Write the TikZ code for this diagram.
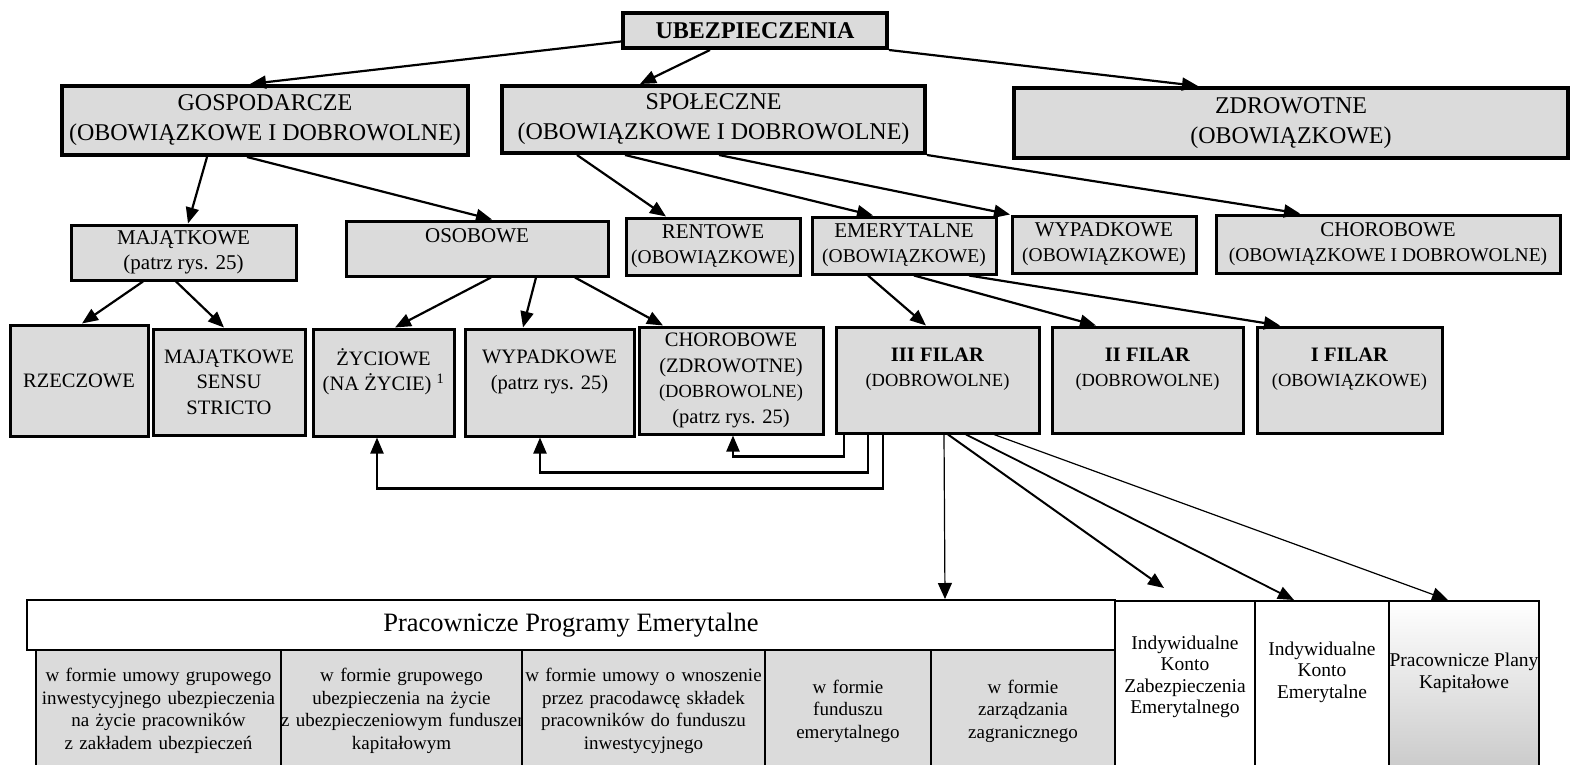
\documentclass[tikz,border=0pt]{standalone}
\usepackage{fontspec}
\setmainfont{Liberation Serif}
\usetikzlibrary{arrows.meta}
\tikzstyle{mainbox}=[draw, fill=black!14, line width=4pt, inner sep=0pt, align=center, font=\fontsize{24}{30}\selectfont]
\tikzstyle{midbox}=[draw, fill=black!14, line width=3pt, inner sep=0pt, align=center, font=\fontsize{21}{25}\selectfont]
\tikzstyle{leafbox}=[draw, fill=black!14, line width=3pt, inner sep=0pt, align=center, minimum height=107pt, font=\fontsize{20.5}{25.5}\selectfont]
\tikzstyle{cell}=[draw, fill=black!14, line width=2pt, inner sep=0pt, align=center, anchor=north west, minimum height=122pt, font=\fontsize{19}{22.5}\selectfont]
\tikzstyle{planbox}=[draw, fill=white, line width=2pt, inner sep=0pt, anchor=north west, minimum height=180pt]
\tikzstyle{plantext}=[inner sep=0pt, align=center, font=\fontsize{19.5}{21.5}\selectfont]
\tikzstyle{link}=[line width=2.2pt, -{Triangle[length=16pt, width=13pt]}]
\tikzstyle{thinlink}=[line width=1.2pt, -{Triangle[length=16pt, width=14pt]}]
\newcommand{\subline}{\fontsize{19.5}{25}\selectfont}
\newcommand{\leafline}{\fontsize{18.5}{25.5}\selectfont}
\begin{document}
\begin{tikzpicture}[x=1pt, y=-1pt]
\useasboundingbox (0,0) rectangle (1572,765);
\clip (0,0) rectangle (1572,765);
% top
\node[mainbox, font=\fontsize{24}{30}\selectfont\bfseries, minimum width=264pt, minimum height=35pt] (ubez) at (755,30.5) {UBEZPIECZENIA};
\node[mainbox, minimum width=406pt, minimum height=69pt] (gosp) at (265,120.5) {GOSPODARCZE\\(OBOWIĄZKOWE I DOBROWOLNE)};
\node[mainbox, minimum width=423pt, minimum height=67pt] (spol) at (713.5,119.5) {SPOŁECZNE\\(OBOWIĄZKOWE I DOBROWOLNE)};
\node[mainbox, minimum width=554pt, minimum height=70pt] (zdrow) at (1291,123) {ZDROWOTNE\\(OBOWIĄZKOWE)};
% second row
\node[midbox, minimum width=225pt, minimum height=55pt] (maj) at (183.5,252.5) {MAJĄTKOWE\\(patrz rys. 25)};
\node[midbox, minimum width=262pt, minimum height=55pt] (osob) at (477,248.5) {OSOBOWE\\~};
\node[midbox, minimum width=174pt, minimum height=57pt] (rent) at (713,246.5) {RENTOWE\\{\subline(OBOWIĄZKOWE)}};
\node[midbox, minimum width=184pt, minimum height=57pt] (emer) at (904,245.5) {EMERYTALNE\\{\subline(OBOWIĄZKOWE)}};
\node[midbox, minimum width=184pt, minimum height=57pt] (wyp1) at (1104,244.5) {WYPADKOWE\\{\subline(OBOWIĄZKOWE)}};
\node[midbox, minimum width=344pt, minimum height=58pt] (chor1) at (1388,244) {CHOROBOWE\\{\subline(OBOWIĄZKOWE I DOBROWOLNE)}};
% third row
\node[leafbox, minimum width=138pt, minimum height=111pt] (rzecz) at (79,380.5) {RZECZOWE};
\node[leafbox, minimum width=152pt, minimum height=106pt] (sensu) at (229,382) {MAJĄTKOWE\\SENSU\\STRICTO};
\node[leafbox, minimum width=141pt] (zyc) at (383.5,382.5) {ŻYCIOWE\\(NA ŻYCIE)~\textsuperscript{1}\\~};
\node[leafbox, minimum width=169pt] (wyp2) at (549.5,382.5) {WYPADKOWE\\(patrz rys. 25)\\~};
\node[leafbox, minimum width=184pt] (chor2) at (731,380.5) {CHOROBOWE\\(ZDROWOTNE)\\{\leafline(DOBROWOLNE)}\\(patrz rys. 25)};
\node[leafbox, minimum width=203pt, minimum height=106pt] (fil3) at (937.5,380) {\textbf{III FILAR}\\{\leafline(DOBROWOLNE)}\\~};
\node[leafbox, minimum width=191pt, minimum height=106pt] (fil2) at (1147.5,380) {\textbf{II FILAR}\\{\leafline(DOBROWOLNE)}\\~};
\node[leafbox, minimum width=185pt, minimum height=106pt] (fil1) at (1349.5,380) {\textbf{I FILAR}\\{\leafline(OBOWIĄZKOWE)}\\~};
% programmes
\node[cell, text width=245pt] (form1) at (35,649) {w formie umowy grupowego\\inwestycyjnego ubezpieczenia\\na życie pracowników\\z zakładem ubezpieczeń};
\node[cell, text width=241pt] (form2) at (280,649) {w formie grupowego\\ubezpieczenia na życie\\\mbox{z ubezpieczeniowym funduszem}\\kapitałowym};
\node[cell, text width=243pt] (form3) at (521,649) {w formie umowy o wnoszenie\\przez pracodawcę składek\\pracowników do funduszu\\inwestycyjnego};
\node[cell, text width=166pt] (form4) at (764,649) {w formie\\funduszu\\emerytalnego};
\node[cell, text width=184pt] (form5) at (930,649) {w formie\\zarządzania\\zagranicznego};
\node[draw, fill=white, line width=2pt, inner sep=0pt, anchor=north west, minimum width=1088pt, minimum height=50pt, font=\fontsize{26.5}{30}\selectfont] (ppe) at (26,599) {Pracownicze Programy Emerytalne};
\node[planbox, minimum width=140pt] (ikze) at (1114,600) {};
\node[plantext] (ikzet) at ([yshift=-77pt]ikze.north) {Indywidualne\\Konto\\Zabezpieczenia\\Emerytalnego};
\node[planbox, minimum width=134pt] (ike) at (1254,600) {};
\node[plantext] (iket) at ([yshift=-72pt]ike.north) {Indywidualne\\Konto\\Emerytalne};
\node[planbox, minimum width=150pt, top color=white, bottom color=black!22] (ppk) at (1388,600) {};
\node[plantext] (ppkt) at ([yshift=-73pt]ppk.north) {Pracownicze Plany\\Kapitałowe};
% links
\draw[link] ([yshift=-11pt]ubez.west) -- ([xshift=-15pt]gosp.north);
\draw[link] ([xshift=-45pt]ubez.south) -- ([xshift=-73.5pt]spol.north);
\draw[link] (ubez.south east) -- ([xshift=-93pt]zdrow.north);
\draw[link] ([xshift=-58pt]gosp.south) -- ([xshift=4.5pt]maj.north);
\draw[link] ([xshift=-18pt]gosp.south) -- ([xshift=15pt]osob.north);
\draw[link] ([xshift=-136.5pt]spol.south) -- ([xshift=-47pt]rent.north);
\draw[link] ([xshift=-88.5pt]spol.south) -- ([xshift=-31pt]emer.north);
\draw[link] ([xshift=5.5pt]spol.south) -- ([xshift=-94pt]wyp1.north);
\draw[link] (spol.south east) -- ([xshift=-88pt]chor1.north);
\draw[link] ([xshift=-40.5pt]maj.south) -- ([xshift=3pt]rzecz.north);
\draw[link] ([xshift=-7.5pt]maj.south) -- ([xshift=-5pt]sensu.north);
\draw[link] ([xshift=14pt]osob.south) -- ([xshift=11.5pt]zyc.north);
\draw[link] ([xshift=59pt]osob.south) -- ([xshift=-26.5pt]wyp2.north);
\draw[link] ([xshift=98pt]osob.south) -- ([xshift=-68pt]chor2.north);
\draw[link] ([xshift=-36pt]emer.south) -- ([xshift=-11.5pt]fil3.north);
\draw[link] ([xshift=10pt]emer.south) -- ([xshift=-51.5pt]fil2.north);
\draw[link] ([xshift=65pt]emer.south) -- ([xshift=-69.5pt]fil1.north);
% back to the personal insurances
\draw[link] ([xshift=-93.5pt]fil3.south) -- ++(0,22) -| ([xshift=2pt]chor2.south);
\draw[link] ([xshift=-69.5pt]fil3.south) -- ++(0,38) -| ([xshift=-9.5pt]wyp2.south);
\draw[link] ([xshift=-54.5pt]fil3.south) -- ++(0,54) -| ([xshift=-6.5pt]zyc.south);
% to the programmes
\draw[thinlink] ([xshift=6.5pt]fil3.south) -- ([xshift=374pt]ppe.north);
\draw[link, line width=2pt] ([xshift=10.5pt]fil3.south) -- ([xshift=-21pt, yshift=12pt]ikze.north);
\draw[link, line width=1.8pt] ([xshift=28.5pt]fil3.south) -- ([xshift=-28pt]ike.north);
\draw[thinlink] ([xshift=56.5pt]fil3.south) -- ([xshift=-16pt]ppk.north);
\end{tikzpicture}
\end{document}
